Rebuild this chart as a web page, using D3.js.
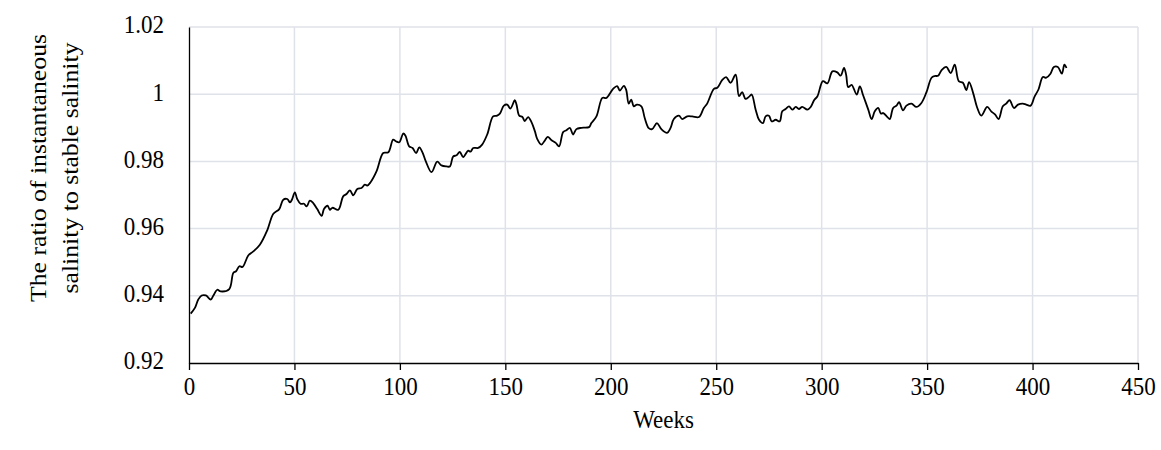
<!DOCTYPE html>
<html>
<head>
<meta charset="utf-8">
<script src="https://cdn.jsdelivr.net/npm/d3@7"></script>
<style>
    body { margin: 0; background: #fff; }
    text { font-family: "Liberation Serif", "Times New Roman", serif; }
</style>
</head>
<body>
<div id="chart"></div>
<script>
// week numbers and salinity ratio
var weeks = [0.8, 2.8, 4.4, 6, 8, 10.3, 11.5, 13.4, 15, 19.1, 21, 22.3, 23.9, 25.4, 28.1, 30.5, 33.6, 37.1, 40, 42.8,
    44.7, 46.6, 47.9, 48.8, 50.2, 51.3, 52.9, 54.5, 55.8, 57.3, 58.9, 60.8, 62.9, 64, 65.7, 66.8, 68, 70.8, 73.1, 74.7,
    76.3, 77.9, 79.8, 81.8, 83.4, 84.5, 86.1, 88.9, 92.1, 94.5, 96.8, 98.1, 99.7, 101.6, 102.6, 104.4, 106, 107.7, 109.2, 110.7,
    112.3, 115, 117.7, 119.7, 122.1, 123.7, 125.3, 126.9, 128.4, 130, 132.4, 133.5, 134.8, 137.1, 139, 141.4, 144.2, 146.1, 147.4, 149.3,
    150.9, 152.4, 154.5, 155.3, 156.6, 158.1, 159.2, 160.8, 162.4, 164, 165.1, 167.1, 168.7, 170.1, 171.9, 173.9, 175.5, 177.4, 179, 180.6,
    182.1, 183.7, 186.1, 189.7, 190.8, 193.2, 196, 197.9, 201.1, 203, 204.3, 206.2, 207.3, 208.5, 209.7, 210.9, 212.4, 214.5, 216.1, 218,
    219.6, 221.9, 224, 226.7, 228.3, 229.9, 232.3, 233.9, 236.2, 238.6, 241.8, 244.1, 245.7, 248.9, 250.5, 252.8, 254.7, 256.8, 259.2, 260.8,
    262.3, 263.9, 265.5, 266.8, 268.7, 270.3, 272.2, 273.4, 275, 276.3, 278.2, 280.1, 281.3, 282.9, 284.5, 286.1, 287.7, 289.2, 290.8, 293.2,
    294.8, 296.4, 298, 300.6, 302.7, 305.1, 307.4, 309, 310.6, 311.6, 312.6, 314.2, 316.6, 318.1, 319.7, 322.1, 323.7, 325.2, 326.8, 328.1,
    329.2, 331.2, 332.3, 333.9, 335.5, 336.7, 338.6, 340.2, 342.6, 344.9, 347.3, 349.7, 352.1, 353.6, 355.2, 356.8, 359.1, 361.2, 363.1, 365,
    367, 368.6, 369.9, 371.8, 373.8, 375.7, 378.5, 380.4, 382.3, 383.9, 385.9, 387.5, 389.1, 391.2, 393.1, 395.4, 397, 399.1, 400.9, 402.8,
    404.9, 406.5, 408.5, 410.1, 412, 413.9, 415.1, 416.1];

var ratio = [0.9347, 0.9364, 0.9389, 0.9401, 0.9401, 0.9389, 0.94, 0.9418, 0.9413, 0.942, 0.9468, 0.9473, 0.9488, 0.9486, 0.952, 0.9532, 0.9552, 0.9595, 0.9644, 0.9658,
    0.9686, 0.9688, 0.9678, 0.9686, 0.9708, 0.9688, 0.9674, 0.9674, 0.9666, 0.9683, 0.9676, 0.9658, 0.9638, 0.9658, 0.9668, 0.9656, 0.9662, 0.9656, 0.9696, 0.9703,
    0.9714, 0.9699, 0.9718, 0.9721, 0.9731, 0.9728, 0.9738, 0.977, 0.9825, 0.9827, 0.9865, 0.986, 0.9857, 0.9883, 0.9877, 0.9845, 0.984, 0.9825, 0.9842, 0.9827,
    0.98, 0.9768, 0.9799, 0.9788, 0.9785, 0.9785, 0.9815, 0.9818, 0.9828, 0.9813, 0.9832, 0.9829, 0.984, 0.984, 0.985, 0.988, 0.9934, 0.9936, 0.9942, 0.9966,
    0.9969, 0.9957, 0.9982, 0.9969, 0.9936, 0.9932, 0.992, 0.9932, 0.9917, 0.989, 0.9867, 0.985, 0.9862, 0.9873, 0.9863, 0.9855, 0.9845, 0.9887, 0.9893, 0.99,
    0.988, 0.9896, 0.99, 0.9902, 0.9914, 0.9934, 0.9989, 0.9989, 1.0016, 1.0024, 1.0011, 1.0025, 1.0013, 0.9972, 0.9984, 0.9964, 0.9969, 0.9964, 0.9929, 0.9899,
    0.9896, 0.9914, 0.9896, 0.9885, 0.9899, 0.9926, 0.9936, 0.9926, 0.9934, 0.9934, 0.9932, 0.9959, 0.9972, 1.0016, 1.0019, 1.0042, 1.0051, 1.0034, 1.0058, 0.9994,
    1.0006, 0.9986, 0.9992, 0.9999, 0.9954, 0.9924, 0.9914, 0.9934, 0.9936, 0.9919, 0.9924, 0.9919, 0.9949, 0.9956, 0.9964, 0.9954, 0.9962, 0.9956, 0.9962, 0.9954,
    0.9962, 0.9982, 0.9994, 1.0039, 1.0032, 1.0068, 1.0065, 1.0055, 1.0078, 1.0058, 1.0021, 1.0028, 0.9999, 1.0023, 0.9996, 0.9954, 0.9926, 0.9949, 0.9959, 0.9942,
    0.9944, 0.9932, 0.9926, 0.9959, 0.9966, 0.9976, 0.9952, 0.9966, 0.9972, 0.9962, 0.9974, 1.0006, 1.0049, 1.0054, 1.0055, 1.0071, 1.0081, 1.0063, 1.0088, 1.0039,
    1.0034, 1.0012, 1.0036, 1.0004, 0.9959, 0.9936, 0.9962, 0.9949, 0.9939, 0.9926, 0.9964, 0.9972, 0.9982, 0.9959, 0.9969, 0.9972, 0.9969, 0.9966, 0.9992, 1.0014,
    1.0051, 1.0049, 1.0061, 1.0081, 1.0081, 1.0061, 1.0088, 1.0078];

var xTicks = [0, 50, 100, 150, 200, 250, 300, 350, 400, 450];
var yTicks = [0.92, 0.94, 0.96, 0.98, 1, 1.02];

var margin = { top: 27, right: 23, bottom: 87, left: 189 },
    width = 1161 - margin.left - margin.right,
    height = 450 - margin.top - margin.bottom;

var fontSize = 23,
    stretch = 1.12; // glyphs in the reference look a bit taller than wide

var svg = d3.select("#chart")
    .append("svg")
    .attr("width", 1161)
    .attr("height", 450)
    .append("g")
    .attr("transform", "translate(" + margin.left + "," + margin.top + ")");

var x = d3.scaleLinear().domain([0, 450]).range([0, width]);
var y = d3.scaleLinear().domain([0.92, 1.02]).range([height, 0]);

// gridlines
svg.append("g")
    .selectAll("line")
    .data(xTicks.slice(1))
    .join("line")
    .attr("x1", function (d) { return x(d) })
    .attr("x2", function (d) { return x(d) })
    .attr("y1", 0)
    .attr("y2", height)
    .attr("stroke", "#dfe2e9")
    .attr("stroke-width", 1.5)

svg.append("g")
    .selectAll("line")
    .data(yTicks.slice(1))
    .join("line")
    .attr("x1", 0)
    .attr("x2", width)
    .attr("y1", function (d) { return y(d) })
    .attr("y2", function (d) { return y(d) })
    .attr("stroke", "#dfe2e9")
    .attr("stroke-width", 1.5)

// axes
var xAxis = svg.append("g")
    .attr("transform", "translate(0," + height + ")")
    .call(d3.axisBottom(x).tickValues(xTicks).tickSize(7).tickSizeOuter(0));

var yAxis = svg.append("g")
    .call(d3.axisLeft(y).tickValues(yTicks).tickSize(0)
        .tickFormat(function (d) { return d === 1 ? "1" : d3.format(".2f")(d) }));

[xAxis, yAxis].forEach(function (g) {
    g.select(".domain").attr("stroke", "#000").attr("stroke-width", 1.3);
    g.selectAll(".tick line").attr("stroke", "#000").attr("stroke-width", 1.3);
    g.selectAll("text")
        .attr("fill", "#000")
        .style("font-family", "'Liberation Serif', 'Times New Roman', serif")
        .style("font-size", fontSize + "px");
});

// stretch tick labels vertically around their own spot
xAxis.selectAll(".tick text")
    .attr("y", null)
    .attr("dy", null)
    .attr("dominant-baseline", "middle")
    .attr("transform", "translate(0,26) scale(1," + stretch + ")");

yAxis.selectAll(".tick text")
    .attr("x", null)
    .attr("dy", null)
    .attr("dominant-baseline", "middle")
    .attr("transform", "translate(-25,0) scale(1," + stretch + ")");

// the line
var points = weeks.map(function (w, i) { return [w, ratio[i]] });

svg.append("path")
    .datum(points)
    .attr("fill", "none")
    .attr("stroke", "#000")
    .attr("stroke-width", 1.8)
    .attr("stroke-linejoin", "round")
    .attr("d", d3.line()
        .curve(d3.curveCatmullRom)
        .x(function (d) { return x(d[0]) })
        .y(function (d) { return y(d[1]) }))

// axis titles
svg.append("text")
    .attr("transform", "translate(" + (width / 2) + "," + (height + 59) + ") scale(1," + stretch + ")")
    .attr("text-anchor", "middle")
    .attr("dominant-baseline", "middle")
    .style("font-size", fontSize + "px")
    .text("Weeks");

var yTitle = svg.append("text")
    .attr("transform", "translate(" + (46 - margin.left) + "," + (168 - margin.top) + ") scale(1," + stretch + ") rotate(-90)")
    .attr("text-anchor", "middle")
    .style("font-size", fontSize + "px");

yTitle.append("tspan").attr("x", 0).attr("dy", 0).text("The ratio of instantaneous");
yTitle.append("tspan").attr("x", 0).attr("dy", "1.4em").text("salinity to stable salinity");
</script>
</body>
</html>
